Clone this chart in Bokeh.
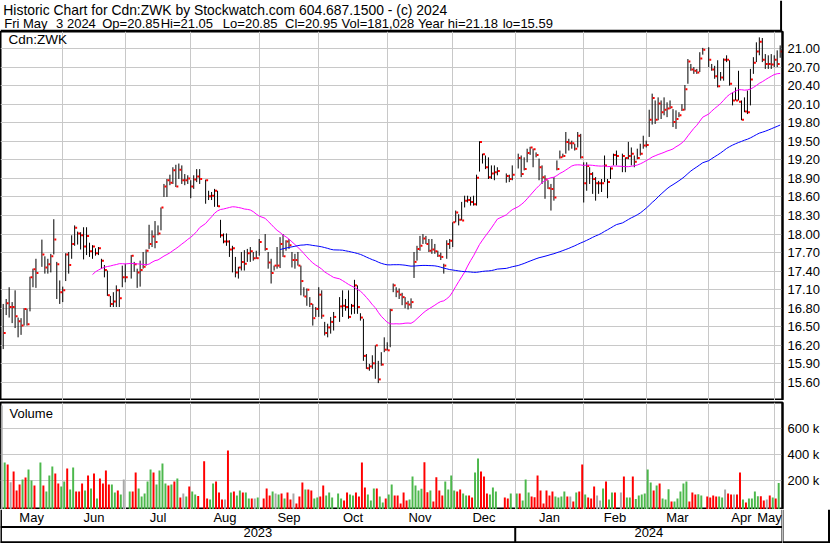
import numpy as np
import pandas as pd
from bokeh.plotting import figure
from bokeh.layouts import column, row
from bokeh.models import (Range1d, FixedTicker, Grid, Label, Span, ColumnDataSource,
                          PrintfTickFormatter)
from bokeh.embed import file_html
from bokeh.resources import INLINE
from bokeh.core.properties import value

FONT = "Liberation Sans"

# ---------------- data ----------------
first_day = "2023-05-04"
last_day = "2024-05-03"
holidays = ["2023-05-22", "2023-07-03", "2023-08-07", "2023-09-04", "2023-10-09",
            "2023-12-25", "2023-12-26", "2024-01-01", "2024-02-19", "2024-03-29"]

high = [
    # May 2023
    16.87, 16.95, 17.14, 16.90, 17.09, 16.65, 16.64, 16.80, 16.79, 17.31, 17.44, 17.60,
    17.91, 17.64, 17.60, 17.68, 18.24, 17.55, 17.25,
    # Jun
    17.15, 17.69, 17.71, 17.98, 18.14, 18.04, 18.03, 18.11, 18.11, 17.86, 17.82, 17.77,
    17.79, 17.60, 17.50, 17.41, 17.00, 17.06, 17.17, 17.11, 17.49, 17.52,
    # Jul
    17.66, 17.55, 17.44, 17.57, 17.71, 17.75, 18.15, 18.06, 18.21, 18.14, 18.43, 18.81,
    18.89, 18.96, 19.08, 19.12, 19.14, 19.11, 18.97, 18.95,
    # Aug
    18.87, 18.95, 19.05, 19.05, 18.88, 18.70, 18.68, 18.73, 18.70, 18.23, 18.01, 18.01,
    17.90, 17.81, 17.63, 17.47, 17.71, 17.74, 17.76, 17.79, 17.71, 17.73,
    # Sep
    17.92, 18.00, 17.71, 17.60, 17.49, 17.79, 17.95, 18.00, 17.90, 17.92, 17.71, 17.68,
    17.71, 17.49, 17.14, 17.12, 16.98, 16.87, 16.82, 17.14,
    # Oct
    17.09, 16.58, 16.55, 16.66, 16.74, 16.98, 17.09, 16.95, 17.09, 16.87, 17.26, 17.17,
    16.72, 16.63, 16.06, 15.90, 16.04, 16.20, 15.95, 16.09, 16.33,
    # Nov
    16.25, 16.79, 17.20, 17.14, 17.12, 17.05, 16.98, 16.92, 16.96, 17.71, 17.81, 17.97,
    18.00, 17.97, 17.92, 17.92, 17.84, 17.73, 17.70, 17.52, 17.90, 17.92,
    # Dec
    18.19, 18.38, 18.32, 18.52, 18.62, 18.62, 18.60, 18.62, 18.96, 19.50, 19.30, 19.27,
    19.24, 19.11, 19.11, 19.08, 18.98, 18.96, 19.11,
    # Jan 2024
    19.30, 19.27, 19.24, 19.38, 19.41, 19.38, 19.32, 19.22, 19.11, 18.95, 18.87, 18.81,
    18.92, 19.19, 19.35, 19.30, 19.65, 19.54, 19.51, 19.46, 19.65, 19.62,
    # Feb
    19.16, 19.16, 19.08, 19.00, 18.92, 18.86, 18.89, 19.27, 18.89, 19.08, 19.30, 19.35,
    19.30, 19.24, 19.49, 19.40, 19.27, 19.38, 19.46, 19.59,
    # Mar
    19.51, 20.01, 20.27, 20.16, 20.21, 20.16, 20.21, 20.13, 20.16, 20.02, 20.00, 19.97,
    20.10, 20.41, 20.83, 20.75, 20.70, 20.67, 20.94, 21.01,
    # Apr
    21.02, 20.75, 20.72, 20.81, 20.62, 20.84, 20.89, 20.81, 20.29, 20.37, 20.64, 20.16,
    20.21, 20.32, 20.67, 20.86, 21.10, 21.18, 21.17, 20.91, 20.89, 20.91,
    # May 2024
    20.89, 20.97, 21.05,
]

low = [
    16.14, 16.69, 16.65, 16.56, 16.48, 16.33, 16.37, 16.52, 16.52, 16.75, 17.14, 17.13,
    17.47, 17.36, 17.36, 17.38, 17.67, 16.95, 16.87,
    16.90, 17.24, 17.36, 17.60, 17.81, 17.83, 17.75, 17.59, 17.66, 17.63, 17.60, 17.65,
    17.66, 17.44, 17.30, 17.00, 16.82, 16.82, 16.82, 16.82, 17.14, 17.22,
    17.28, 17.39, 17.13, 17.15, 17.44, 17.49, 17.76, 17.79, 17.77, 17.98, 18.06, 18.60,
    18.60, 18.79, 18.81, 18.76, 18.89, 18.81, 18.79, 18.81,
    18.58, 18.73, 18.84, 18.81, 18.49, 18.55, 18.55, 18.44, 18.44, 17.94, 17.85, 17.81,
    17.63, 17.38, 17.30, 17.28, 17.41, 17.41, 17.55, 17.55, 17.57, 17.60,
    17.65, 17.73, 17.44, 17.20, 17.41, 17.44, 17.45, 17.63, 17.73, 17.76, 17.46, 17.44,
    17.49, 17.01, 16.99, 16.84, 16.82, 16.52, 16.66, 16.66,
    16.63, 16.36, 16.33, 16.39, 16.44, 16.58, 16.66, 16.76, 16.63, 16.70, 16.71, 16.71,
    16.60, 15.95, 15.82, 15.79, 15.82, 15.66, 15.59, 15.87, 16.09,
    16.12, 16.17, 17.06, 16.98, 16.95, 16.85, 16.80, 16.78, 16.80, 17.29, 17.57, 17.73,
    17.84, 17.84, 17.71, 17.68, 17.68, 17.63, 17.58, 17.36, 17.60, 17.76,
    17.79, 18.19, 18.14, 18.22, 18.43, 18.51, 18.46, 18.46, 18.46, 19.01, 19.14, 19.05,
    18.89, 18.89, 18.87, 18.95, 18.83, 18.84, 18.87,
    19.06, 18.92, 19.03, 19.16, 19.28, 19.08, 19.24, 18.87, 18.81, 18.57, 18.73, 18.38,
    18.54, 19.03, 19.22, 19.24, 19.30, 19.35, 19.38, 19.35, 19.40, 19.22,
    18.51, 18.70, 18.81, 18.65, 18.54, 18.65, 18.68, 18.84, 18.58, 18.89, 19.11, 19.11,
    19.00, 19.00, 19.21, 19.11, 19.08, 19.21, 19.27, 19.38,
    19.40, 19.57, 19.77, 19.78, 19.84, 19.86, 19.92, 19.89, 20.02, 19.73, 19.70, 19.89,
    19.99, 20.00, 20.43, 20.64, 20.59, 20.59, 20.62, 20.90,
    20.70, 20.64, 20.51, 20.37, 20.48, 20.48, 20.78, 20.40, 20.08, 20.16, 20.16, 19.84,
    19.97, 19.94, 20.08, 20.59, 20.78, 20.89, 20.78, 20.67, 20.67, 20.67,
    20.70, 20.70, 20.85,
]

close = [
    16.40, 16.88, 16.82, 16.82, 16.67, 16.59, 16.52, 16.79, 16.54, 17.30, 17.43, 17.37,
    17.67, 17.46, 17.51, 17.64, 17.91, 17.51, 17.06,
    17.09, 17.67, 17.50, 17.84, 18.10, 18.01, 17.98, 17.80, 17.97, 17.72, 17.80, 17.69,
    17.77, 17.57, 17.42, 17.01, 16.87, 16.91, 17.09, 16.96, 17.30, 17.30,
    17.65, 17.51, 17.38, 17.42, 17.47, 17.73, 17.84, 17.96, 17.87, 18.01, 18.43, 18.77,
    18.87, 18.83, 19.03, 18.77, 19.04, 18.87, 18.87, 18.90,
    18.77, 18.88, 18.93, 18.89, 18.87, 18.61, 18.62, 18.70, 18.45, 17.98, 17.88, 17.88,
    17.75, 17.77, 17.38, 17.46, 17.55, 17.52, 17.69, 17.72, 17.61, 17.61,
    17.87, 17.76, 17.54, 17.37, 17.49, 17.49, 17.84, 17.64, 17.88, 17.82, 17.58, 17.58,
    17.49, 17.24, 16.99, 17.10, 16.87, 16.64, 16.79, 17.02,
    16.68, 16.40, 16.49, 16.58, 16.66, 16.83, 16.84, 16.82, 16.66, 16.84, 17.17, 16.82,
    16.65, 16.03, 15.83, 15.86, 15.91, 16.20, 15.65, 15.89, 16.13,
    16.12, 16.77, 17.17, 17.07, 17.02, 16.98, 16.88, 16.86, 16.90, 17.55, 17.76, 17.81,
    17.93, 17.84, 17.73, 17.75, 17.72, 17.65, 17.63, 17.49, 17.84, 17.89,
    18.19, 18.35, 18.23, 18.22, 18.54, 18.55, 18.52, 18.48, 18.91, 19.49, 19.29, 19.08,
    18.92, 18.98, 19.00, 19.02, 18.94, 18.89, 18.96,
    19.23, 18.97, 19.05, 19.31, 19.40, 19.37, 19.28, 19.08, 18.92, 18.88, 18.74, 18.73,
    18.59, 19.05, 19.24, 19.26, 19.49, 19.47, 19.47, 19.38, 19.59, 19.24,
    18.82, 19.10, 18.97, 18.89, 18.82, 18.82, 18.82, 19.11, 18.84, 19.06, 19.28, 19.26,
    19.26, 19.23, 19.26, 19.30, 19.17, 19.23, 19.30, 19.43,
    19.44, 19.85, 20.20, 19.85, 20.11, 19.97, 20.01, 20.03, 20.05, 19.81, 19.86, 19.92,
    20.01, 20.34, 20.79, 20.66, 20.64, 20.61, 20.84, 20.98,
    20.82, 20.66, 20.55, 20.39, 20.53, 20.82, 20.82, 20.43, 20.16, 20.16, 20.14, 19.85,
    19.98, 19.97, 20.50, 20.77, 20.95, 21.11, 20.82, 20.75, 20.75, 20.74,
    20.82, 20.75, 20.95,
]

volume_k = [
    780, 339, 323, 187, 269, 123, 169, 208, 223, 285, 200, 161,
    339, 161, 115, 238, 308, 254, 177,
    154, 192, 292, 130, 300, 115, 115, 177, 123, 238, 138, 254,
    61, 215, 177, 277, 169, 169, 107, 123, 92, 208,
    115, 115, 262, 138, 76, 100, 192, 285, 262, 169, 277, 331,
    177, 161, 169, 192, 215, 69, 100, 76,
    154, 115, 92, 80, 349, 61, 53, 177, 192, 107, 53, 53,
    431, 107, 115, 84, 123, 107, 107, 61, 61, 61,
    69, 61, 138, 84, 115, 100, 92, 100, 61, 107, 53, 100,
    22, 76, 184, 130, 130, 123, 61, 69,
    76, 161, 84, 107, 69, 100, 61, 45, 107, 92, 84, 107,
    76, 339, 146, 92, 45, 138, 138, 76, 30,
    61, 92, 169, 84, 84, 22, 107, 45, 53, 231, 161, 123,
    136, 341, 110, 123, 38, 226, 123, 84, 192, 130,
    238, 123, 115, 130, 100, 84, 84, 69, 262, 370, 269, 231,
    100, 92, 146, 115, 69, 61, 100,
    100, 100, 45, 208, 107, 76, 71, 238, 123, 22, 123, 84,
    115, 76, 69, 76, 115, 76, 76, 38, 107, 115,
    323, 92, 69, 61, 153, 84, 45, 138, 192, 53, 107, 107,
    107, 231, 69, 69, 231, 58, 84, 92,
    100, 285, 184, 123, 161, 177, 61, 53, 133, 38, 38, 61,
    115, 177, 192, 38, 107, 92, 94, 84,
    76, 69, 84, 76, 76, 69, 130, 100, 92, 92, 92, 262,
    53, 30, 61, 61, 115, 79, 79, 45, 53, 84,
    69, 61, 181,
]

price_ticks = [15.6, 15.9, 16.2, 16.5, 16.8, 17.1, 17.4, 17.7, 18.0, 18.3, 18.6, 18.9,
               19.2, 19.5, 19.8, 20.1, 20.4, 20.7, 21.0]
volume_ticks = [200000, 400000, 600000]
volume_tick_labels = ["200 k", "400 k", "600 k"]
month_labels = ["May", "Jun", "Jul", "Aug", "Sep", "Oct", "Nov", "Dec",
                "Jan", "Feb", "Mar", "Apr", "May"]
year_labels = ["2023", "2024"]

title_line = "Historic Chart for Cdn:ZWK by Stockwatch.com 604.687.1500 - (c) 2024"
info_parts = ["Fri May", "3 2024", "Op=20.85", "Hi=21.05", "Lo=20.85", "Cl=20.95",
              "Vol=181,028", "Year hi=21.18", "lo=15.59"]
symbol_label = "Cdn:ZWK"
volume_label = "Volume"

# ---------------- derived ----------------
weekdays = pd.bdate_range(first_day, last_day)
trade_days = weekdays[~weekdays.isin(pd.to_datetime(holidays))]
x = weekdays.get_indexer(trade_days).astype(float)
assert len(x) == len(high) == len(low) == len(close) == len(volume_k)

close_s = pd.Series(close)
ma30 = close_s.rolling(30).mean()
ma90 = close_s.rolling(90).mean()

GREEN, RED, GRAY = "#4cb84c", "#ff0000", "#a8a8a8"
vcolors = [GRAY]
for k in range(1, len(close)):
    d = round(close[k] - close[k - 1], 4)
    vcolors.append(GREEN if d > 0 else (RED if d < 0 else GRAY))

src = ColumnDataSource(dict(
    x=x, xt=x + 0.5, xv=x - 0.5, high=high, low=low, close=close,
    vol=np.array(volume_k) * 1000.0, vcol=vcolors,
    ma30=ma30.to_numpy(), ma90=ma90.to_numpy()))

# month boundaries (1st of month, or the weekday before it)
grid_x = []
for d in pd.date_range("2023-06-01", "2024-05-01", freq="MS"):
    pos = weekdays.searchsorted(d)
    grid_x.append(pos if (pos < len(weekdays) and weekdays[pos] == d) else pos - 1)
jan_x = grid_x[7]

# layout (pixels)
W = 830
FRAME_W = 782
RIGHT_W = W - FRAME_W
HDR_H, PRICE_H, VOL_H, DATE_H = 31, 369, 109, 34

X0, X1 = -0.907, 261.78
ppu = FRAME_W / (X1 - X0)

bounds = [X0] + grid_x + [X1]
month_mid = [(bounds[k] + bounds[k + 1]) / 2 for k in range(len(bounds) - 1)]
month_mid[-1] = min(month_mid[-1], X1 - 13.0 / ppu)   # keep last label inside
year_mid = [(X0 + jan_x) / 2, (jan_x + X1) / 2]

GRID_COL = "#c8c8c8"
FS = "13px"

xr = Range1d(X0, X1)


def style_axis(ax):
    ax.major_tick_in = 0
    ax.major_tick_out = 0
    ax.minor_tick_in = 0
    ax.minor_tick_out = 0
    ax.axis_line_color = "black"
    ax.axis_line_width = 2
    ax.major_label_standoff = 5
    ax.major_label_text_font = FONT
    ax.major_label_text_font_size = FS
    ax.major_label_text_color = "#000000"


# ---------------- header ----------------
hdr = figure(width=W, height=HDR_H, x_range=Range1d(0, W), y_range=Range1d(HDR_H, 0),
             toolbar_location=None, output_backend="svg", min_border=0,
             x_axis_location=None, y_axis_location=None, outline_line_color=None)
hdr.xgrid.visible = False
hdr.ygrid.visible = False
hdr.text(x=[3], y=[9.8], text=[title_line], text_font=value(FONT),
         text_font_size="13.9px", text_baseline="alphabetic", text_color="#000000")
info_x = [4, 59, 108, 170, 236, 302, 362, 443, 533]
hdr.text(x=info_x, y=[22.8] * len(info_x), text=info_parts, text_font=value(FONT),
         text_font_size="13px", text_baseline="alphabetic", text_color="#000000")
hdr.add_layout(Span(location=30.3, dimension="width", line_color="black", line_width=2))
hdr.segment(x0=[828.5], y0=[0], x1=[828.5], y1=[HDR_H], line_color="black", line_width=2)

# ---------------- price panel ----------------
p = figure(width=W, height=PRICE_H, x_range=xr, y_range=Range1d(15.3088, 21.2749),
           y_axis_location="right", x_axis_location=None, toolbar_location=None,
           output_backend="svg", min_border_left=0, min_border_right=RIGHT_W,
           min_border_top=0, min_border_bottom=0,
           outline_line_color="black", outline_line_width=2)
p.yaxis.ticker = FixedTicker(ticks=price_ticks)
p.yaxis.formatter = PrintfTickFormatter(format="%.2f")
style_axis(p.yaxis[0])
p.ygrid.grid_line_color = GRID_COL
p.xgrid.visible = False
p.add_layout(Grid(dimension=0, ticker=FixedTicker(ticks=grid_x), grid_line_color=GRID_COL))

p.segment(x0="x", y0="low", x1="x", y1="high", source=src, line_color="black", line_width=1)
p.rect(x="xt", y="close", width=2, height=2, width_units="screen", height_units="screen",
       source=src, fill_color=RED, line_color=None)
p.line(x="x", y="ma30", source=src, line_color="#ff00ff", line_width=1)
p.line(x="x", y="ma90", source=src, line_color="#0000ff", line_width=1)
p.add_layout(Label(x=8, y=PRICE_H, x_units="screen", y_units="screen",
                   text=symbol_label, text_baseline="top", text_font=FONT,
                   text_font_size="13.5px", text_color="#000000"))

# ---------------- volume panel ----------------
VMIN, VMAX = -23900, 802300
v = figure(width=W, height=VOL_H, x_range=xr, y_range=Range1d(VMIN, VMAX),
           y_axis_location="right", x_axis_location=None, toolbar_location=None,
           output_backend="svg", min_border_left=0, min_border_right=RIGHT_W,
           min_border_top=2, min_border_bottom=0,
           outline_line_color="black", outline_line_width=2)
v.yaxis.ticker = FixedTicker(ticks=volume_ticks)
v.yaxis.major_label_overrides = {t: s for t, s in zip(volume_ticks, volume_tick_labels)}
style_axis(v.yaxis[0])
v.ygrid.grid_line_color = GRID_COL
v.xgrid.visible = False
v.add_layout(Grid(dimension=0, ticker=FixedTicker(ticks=grid_x), grid_line_color=GRID_COL))
v.vbar(x="xv", width=0.66, top="vol", bottom=VMIN, source=src,
       fill_color="vcol", line_color=None)
v.add_layout(Label(x=9, y=VOL_H - 2 - 3, x_units="screen", y_units="screen",
                   text=volume_label, text_baseline="top", text_font=FONT,
                   text_font_size="13px", text_color="#000000"))

# ---------------- date axis (months / years) ----------------
b = figure(width=FRAME_W, height=DATE_H, x_range=xr, y_range=Range1d(DATE_H, 0),
           toolbar_location=None, output_backend="svg", min_border=0,
           x_axis_location=None, y_axis_location=None, outline_line_color=None)
b.xgrid.visible = False
b.ygrid.visible = False
b.text(x=month_mid, y=[7.8] * len(month_mid), text=month_labels, text_align="center",
       text_baseline="alphabetic", text_font=value(FONT), text_font_size=FS,
       text_color="#000000")
b.text(x=year_mid, y=[23.0] * 2, text=year_labels, text_align="center",
       text_baseline="alphabetic", text_font=value(FONT), text_font_size=FS,
       text_color="#000000")
b.segment(x0=[X0, jan_x, X1, X0, X0 + 0.15],
          y0=[17.5, 17.5, 0, 32.7, 0],
          x1=[X1, jan_x, X1, X1, X0 + 0.15],
          y1=[17.5, DATE_H, DATE_H, 32.7, DATE_H],
          line_color="black", line_width=2)

# right-hand strip of the date rows (outer box continues there)
br = figure(width=RIGHT_W, height=DATE_H, x_range=Range1d(0, RIGHT_W),
            y_range=Range1d(DATE_H, 0), toolbar_location=None, output_backend="svg",
            min_border=0, x_axis_location=None, y_axis_location=None,
            outline_line_color=None)
br.xgrid.visible = False
br.ygrid.visible = False
br.segment(x0=[0.5, 0, RIGHT_W - 1.5], y0=[0, 32.7, 0],
           x1=[0.5, RIGHT_W, RIGHT_W - 1.5], y1=[DATE_H, 32.7, DATE_H],
           line_color="black", line_width=[1, 2, 2])

layout = column(hdr, p, v, row(b, br, spacing=0), spacing=0)
open("out.html", "w").write(file_html(layout, INLINE))
